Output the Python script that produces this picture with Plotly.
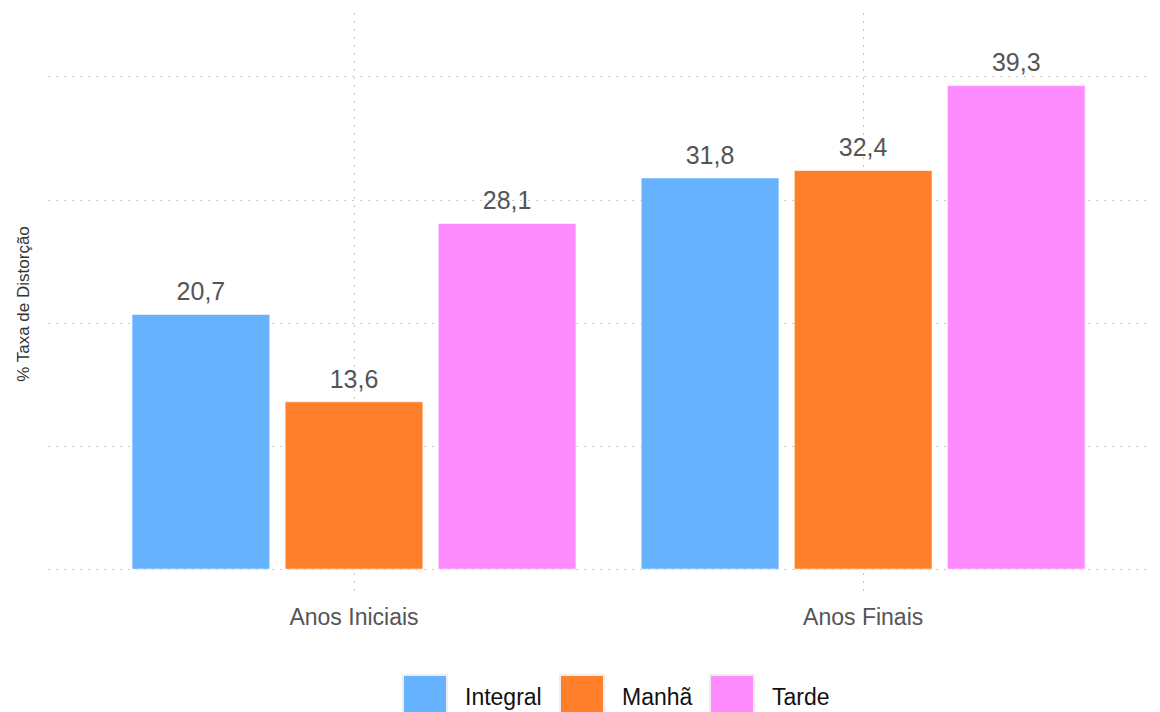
import plotly.graph_objects as go

categories = ["Anos Iniciais", "Anos Finais"]
series_names = ["Integral", "Manhã", "Tarde"]
integral = [20.7, 31.8]
manha = [13.6, 32.4]
tarde = [28.1, 39.3]
series_values = [integral, manha, tarde]
colors = ["#66B2FF", "#FF7F2A", "#FF8CFF"]

FONT = "Liberation Sans, Arial, Helvetica, sans-serif"

# page body has an 8px margin, so the figure is drawn 8px smaller and offset
W, H = 1152, 704
ML, MR, MT, MB = 40, 0, 5, 117
PW, PH = W - ML - MR, H - MT - MB


def px(X):  # reference pixel x -> paper
    return (X - 8 - ML) / PW


def py(Y):  # reference pixel y -> paper
    return (H - MB - (Y - 8)) / PH


fig = go.Figure()
for name, vals, col in zip(series_names, series_values, colors):
    fig.add_trace(go.Bar(
        x=categories, y=vals, name=name,
        marker=dict(color=col, line=dict(color="rgba(255,255,255,0.6)", width=1)),
        showlegend=False, hoverinfo="skip",
    ))
for name, vals in zip(series_names, series_values):
    fig.add_trace(go.Scatter(
        x=categories, y=vals, name=name,
        mode="markers+text",
        marker=dict(size=11, opacity=0),
        text=[f"{v:.1f}".replace(".", ",") for v in vals],
        textposition="top center",
        textfont=dict(size=25, color="#555555", family=FONT),
        cliponaxis=False, showlegend=False, hoverinfo="skip",
    ))

# custom legend with large square keys
legend_box_x = [403, 560, 710]
for bx, name, col in zip(legend_box_x, series_names, colors):
    fig.add_shape(type="rect", xref="paper", yref="paper",
                  x0=px(bx), x1=px(bx + 44), y0=py(675), y1=py(719),
                  fillcolor=col, line=dict(color="#eeeeee", width=2), layer="above")
    fig.add_annotation(xref="paper", yref="paper",
                       x=px(bx + 60), y=py(697),
                       text=name, showarrow=False, xanchor="left", yanchor="middle",
                       font=dict(size=23, color="#111111", family=FONT))

fig.update_layout(
    width=W, height=H,
    margin=dict(l=ML, r=MR, t=MT, b=MB),
    paper_bgcolor="white", plot_bgcolor="white",
    barmode="group", bargap=0.098, bargroupgap=0.1,
    scattermode="group", scattergap=0.098,
    font=dict(family=FONT),
    showlegend=False,
)
fig.update_xaxes(
    range=[-0.601, 1.583],
    showgrid=True, gridcolor="#c8c8c8", griddash="2px,6px", gridwidth=1,
    showline=False, zeroline=False, ticks="",
    tickfont=dict(size=23, color="#555555", family=FONT),
    ticklabelstandoff=6,
)
fig.update_yaxes(
    range=[-2.1, 45.2],
    dtick=10, tick0=0,
    showgrid=True, gridcolor="#c8c8c8", griddash="2px,6px", gridwidth=1,
    showticklabels=False, zeroline=False, showline=False, ticks="",
    title=dict(text="% Taxa de Distorção", font=dict(size=17, color="#333333", family=FONT), standoff=13),
    automargin=False,
)

fig.write_html("out.html")
